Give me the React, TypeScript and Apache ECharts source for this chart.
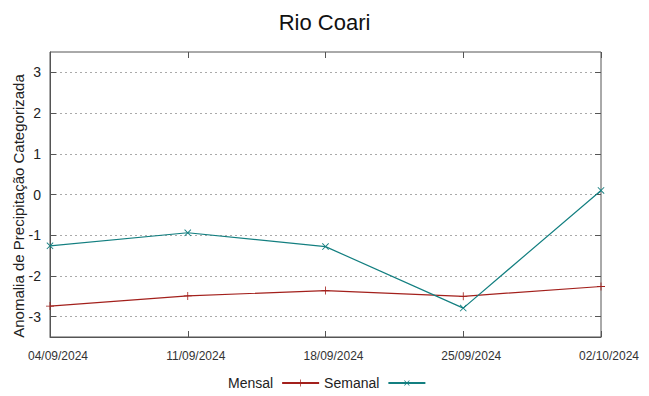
import React, { useEffect, useRef } from "react";
import * as echarts from "echarts";

const dates = ["04/09/2024", "11/09/2024", "18/09/2024", "25/09/2024", "02/10/2024"];
const mensal = [-2.74, -2.49, -2.36, -2.5, -2.26];
const semanal = [-1.26, -0.94, -1.28, -2.79, 0.1];
const yTicks = [-3, -2, -1, 0, 1, 2, 3];

const FONT = "'Liberation Sans', Arial, sans-serif";
const RED = "#a3201c";
const TEAL = "#137f80";
const PLUS = "path://M0,4.5L10,4.5L10,5.5L0,5.5Z M4.5,0L5.5,0L5.5,10L4.5,10Z";

export default function App() {
  const ref = useRef<HTMLDivElement>(null);
  useEffect(() => {
    const chart = echarts.init(ref.current!, null, { renderer: "svg" });
    chart.setOption({
      animation: false,
      backgroundColor: "#fff",
      title: {
        text: "Rio Coari",
        left: "center",
        top: 6,
        textStyle: { fontFamily: FONT, fontSize: 22, fontWeight: "normal", color: "#111" },
      },
      legend: {
        left: 223,
        top: 371,
        align: "right",
        itemWidth: 37,
        itemHeight: 9,
        itemGap: 4,
        textStyle: { fontFamily: FONT, fontSize: 14, color: "#222", padding: [0, 4, 0, 0] },
        data: ["Mensal", "Semanal"],
      },
      grid: {
        left: 50,
        right: 48,
        top: 52,
        bottom: 59,
        show: true,
        borderColor: "#555",
        borderWidth: 1,
      },
      graphic: [
        {
          type: "text",
          x: 18.5,
          y: 206,
          rotation: Math.PI / 2,
          style: {
            text: "Anomalia de Precipitação Categorizada",
            fontFamily: FONT,
            fontSize: 15,
            fill: "#222",
            align: "center",
            verticalAlign: "middle",
          },
        },
      ],
      xAxis: [
        {
          type: "category",
          data: dates,
          boundaryGap: false,
          axisLine: { show: true, onZero: false, lineStyle: { color: "#555" } },
          axisTick: { show: true, inside: true, length: 6, lineStyle: { color: "#555" } },
          axisLabel: {
            fontFamily: FONT,
            fontSize: 12,
            color: "#333",
            margin: 13,
            padding: [0, 0, 0, 16],
            interval: 0,
          },
          splitLine: { show: false },
        },
        {
          type: "category",
          data: dates,
          position: "top",
          boundaryGap: false,
          axisLine: { show: false, onZero: false },
          axisTick: { show: true, inside: true, length: 6, lineStyle: { color: "#555" } },
          axisLabel: { show: false },
          splitLine: { show: false },
        },
      ],
      yAxis: [
        {
          type: "value",
          min: -3.5,
          max: 3.5,
          axisLine: { show: true, onZero: false, lineStyle: { color: "#555" } },
          axisTick: {
            show: true,
            inside: true,
            length: 6,
            customValues: yTicks,
            lineStyle: { color: "#555" },
          },
          axisLabel: {
            customValues: yTicks,
            fontFamily: FONT,
            fontSize: 14,
            color: "#222",
            margin: 9,
          },
          splitLine: { show: true, lineStyle: { color: "#aaa", type: [2, 3], width: 1 } },
        },
        {
          type: "value",
          min: -3.5,
          max: 3.5,
          position: "right",
          axisLine: { show: false, onZero: false },
          axisTick: {
            show: true,
            inside: true,
            length: 6,
            customValues: yTicks,
            lineStyle: { color: "#555" },
          },
          axisLabel: { show: false, customValues: yTicks },
          splitLine: { show: false },
        },
      ],
      series: [
        {
          name: "Mensal",
          type: "line",
          data: mensal,
          symbol: PLUS,
          symbolSize: 8,
          showSymbol: true,
          itemStyle: { color: RED },
          lineStyle: { color: RED, width: 1.2 },
        },
        {
          name: "Semanal",
          type: "line",
          data: semanal,
          symbol: PLUS,
          symbolSize: 9,
          symbolRotate: 45,
          showSymbol: true,
          itemStyle: { color: TEAL },
          lineStyle: { color: TEAL, width: 1.2 },
        },
      ],
    });
    return () => chart.dispose();
  }, []);
  return <div ref={ref} style={{ width: 649, height: 396, margin: -8 }} />;
}
